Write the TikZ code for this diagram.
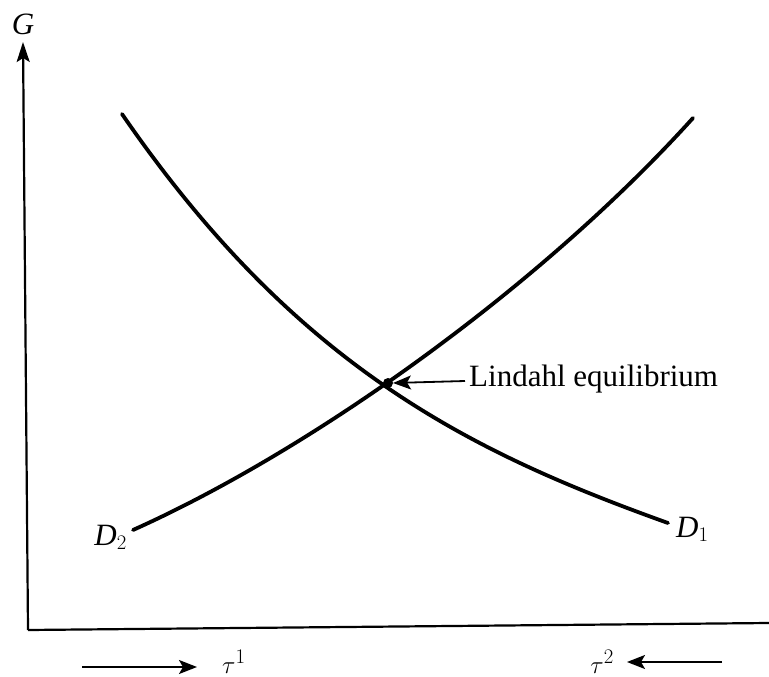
\documentclass[tikz,border=0pt]{standalone}
\usepackage{fontspec}
\setmainfont{Liberation Serif}
\usetikzlibrary{arrows.meta}
\begin{document}
\begin{tikzpicture}[x=1pt,y=-1pt,
  axis/.style={line width=2.2pt},
  curve/.style={line width=3.8pt},
  lbl/.style={inner sep=0pt,font=\fontsize{31}{34}\selectfont},
  dirarrow/.style={line width=1.8pt,-{Stealth[length=18pt,width=14pt,inset=4pt]}}]
\useasboundingbox (0,0) rectangle (769,677);
% axes
\coordinate (O) at (28,630);
\coordinate (Ytop) at (23,42);
\coordinate (Xend) at (769,623);
\draw[axis,-{Stealth[length=20pt,width=13pt,inset=4pt]}] (O) -- (Ytop);
\draw[axis] (O) -- (Xend);
\node[lbl,anchor=center] (G) at (23,24) {\itshape G};
% curves
\coordinate (D1s) at (122,114);
\coordinate (D1e) at (668,523);
\coordinate (D2s) at (133,530);
\coordinate (D2e) at (693,118);
\coordinate (E) at (388,383);
\draw[curve,line cap=round] (D1s) .. controls (296,367) and (470,452) .. (D1e);
\draw[curve,line cap=round] (D2s) .. controls (318,447) and (545,282) .. (D2e);
\fill (E) circle (5pt);
\node[lbl,anchor=base east] (D2) at (127,545) {\itshape D$_2$};
\node[lbl,anchor=base west] (D1) at (676,537) {\itshape D$_1$};
\node[lbl,anchor=base west] (L) at (469,386) {Lindahl equilibrium};
\coordinate (Lt) at (465,381);
\coordinate (Etip) at (393,383);
\draw[dirarrow] (Lt) -- (Etip);
% tau labels
\node[lbl,anchor=base west] (t1) at (222,673) {$\tau^1$};
\node[lbl,anchor=base east] (t2) at (614,673) {$\tau^2$};
\coordinate (a1s) at (82,667);
\draw[dirarrow] (a1s) -- ([xshift=-25pt]t1.west |- a1s);
\coordinate (a2s) at (722,662);
\draw[dirarrow] (a2s) -- ([xshift=13pt]t2.east |- a2s);
\end{tikzpicture}
\end{document}
